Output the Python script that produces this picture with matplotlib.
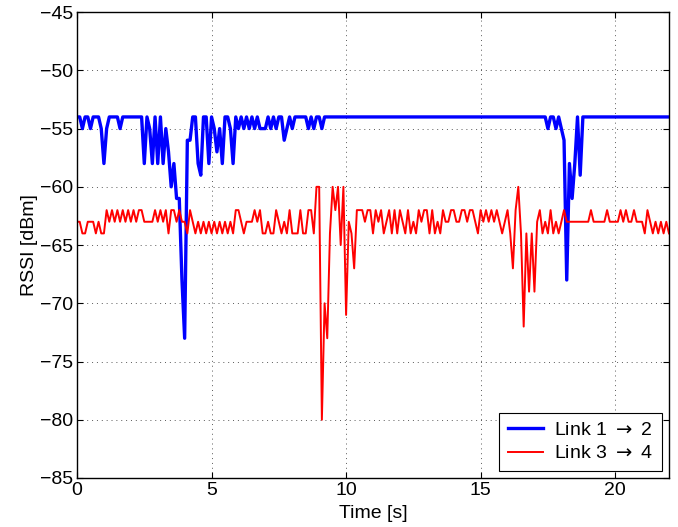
import numpy as np
import matplotlib
matplotlib.use('Agg')
import matplotlib.pyplot as plt

plt.rcParams['font.family'] = ['Liberation Sans', 'DejaVu Sans']

# sample period of the RSSI log [s]
dt = 0.1

# Link 1 -> 2 (blue), one value per sample
rssi_12 = [
    -54, -54, -55, -54, -54, -55, -54, -54, -54, -55,
    -58, -55, -54, -54, -54, -54, -55, -54, -54, -54,
    -54, -54, -54, -54, -54, -58, -54, -55, -58, -54,
    -58, -54, -58, -55, -57, -60, -58, -61, -61, -68,
    -73, -56, -56, -54, -54, -58, -59, -54, -54, -58,
    -54, -55, -57, -55, -58, -54, -54, -55, -58, -54,
    -55, -54, -55, -54, -55, -54, -55, -54, -55, -55,
    -55, -54, -55, -54, -55, -54, -54, -56, -55, -54,
    -55, -54, -54, -54, -54, -54, -55, -54, -55, -54,
    -54, -55, -54, -54, -54, -54, -54, -54, -54, -54,
    -54, -54, -54, -54, -54, -54, -54, -54, -54, -54,
    -54, -54, -54, -54, -54, -54, -54, -54, -54, -54,
    -54, -54, -54, -54, -54, -54, -54, -54, -54, -54,
    -54, -54, -54, -54, -54, -54, -54, -54, -54, -54,
    -54, -54, -54, -54, -54, -54, -54, -54, -54, -54,
    -54, -54, -54, -54, -54, -54, -54, -54, -54, -54,
    -54, -54, -54, -54, -54, -54, -54, -54, -54, -54,
    -54, -54, -54, -54, -54, -55, -54, -54, -55, -54,
    -55, -56, -68, -58, -61, -58, -54, -59, -54, -54,
    -54, -54, -54, -54, -54, -54, -54, -54, -54, -54,
    -54, -54, -54, -54, -54, -54, -54, -54, -54, -54,
    -54, -54, -54, -54, -54, -54, -54, -54, -54, -54,
    -54,
]

# Link 3 -> 4 (red), one value per sample
rssi_34 = [
    -63, -63, -64, -64, -63, -63, -63, -64, -63, -64,
    -64, -62, -63, -62, -63, -62, -63, -62, -63, -62,
    -63, -62, -63, -62, -62, -63, -63, -63, -63, -62,
    -63, -62, -63, -62, -64, -62, -62, -63, -62, -63,
    -63, -64, -62, -63, -64, -63, -64, -63, -64, -63,
    -64, -63, -64, -63, -64, -63, -64, -63, -64, -62,
    -62, -63, -64, -63, -63, -63, -62, -63, -62, -64,
    -64, -63, -64, -64, -62, -63, -64, -63, -64, -62,
    -64, -64, -64, -62, -64, -64, -62, -62, -64, -60,
    -60, -80, -70, -73, -64, -60, -62, -60, -65, -60,
    -71, -63, -64, -67, -62, -62, -62, -63, -62, -62,
    -64, -62, -63, -62, -64, -63, -62, -64, -62, -64,
    -62, -63, -64, -62, -64, -63, -64, -62, -63, -62,
    -62, -64, -62, -64, -63, -64, -62, -63, -63, -62,
    -62, -63, -63, -62, -62, -63, -62, -62, -63, -64,
    -62, -63, -62, -63, -62, -63, -62, -63, -64, -63,
    -62, -64, -67, -62, -60, -64, -72, -64, -69, -64,
    -69, -63, -62, -64, -63, -64, -62, -64, -63, -64,
    -63, -62, -63, -63, -63, -63, -63, -63, -63, -63,
    -63, -62, -63, -63, -63, -63, -63, -62, -63, -63,
    -63, -63, -62, -63, -62, -63, -63, -62, -63, -63,
    -63, -64, -62, -63, -64, -63, -64, -63, -64, -63,
    -64,
]

series_labels = [r'Link 1 $\rightarrow$ 2', r'Link 3 $\rightarrow$ 4']
xticks = [0, 5, 10, 15, 20]
yticks = list(range(-85, -44, 5))

t12 = np.arange(len(rssi_12)) * dt
t34 = np.arange(len(rssi_34)) * dt

fig = plt.figure(figsize=(6.78, 5.27), dpi=100)
ax = fig.add_axes([0.1136, 0.093, 0.8731, 0.884])

ax.plot(t12, rssi_12, color=(0, 0, 1), linewidth=2.4, label=series_labels[0])
ax.plot(t34, rssi_34, color=(1, 0, 0), linewidth=1.4, label=series_labels[1])

ax.set_xlim(0, 22)
ax.set_ylim(-85, -45)
ax.set_xticks(xticks)
ax.set_yticks(yticks)
ax.grid(True, color='0.35', linestyle=(0, (1, 4)), linewidth=0.7)

ax.tick_params(direction='in', length=4, width=0.8, labelsize=14,
               top=True, right=True)
ax.tick_params(axis='x', pad=3)
ax.tick_params(axis='y', pad=3)
for s in ax.spines.values():
    s.set_linewidth(1.0)

ax.set_xlabel('Time [s]', fontsize=14, labelpad=4)
ax.set_ylabel('RSSI [dBm]', fontsize=14, labelpad=1)

leg = ax.legend(loc='lower right', fontsize=14, fancybox=False,
                edgecolor='black', framealpha=1, borderaxespad=0.35,
                handlelength=1.8, handletextpad=0.6, borderpad=0.45,
                labelspacing=0.3)
leg.get_frame().set_linewidth(0.8)

fig.savefig('out.png', dpi=100)
